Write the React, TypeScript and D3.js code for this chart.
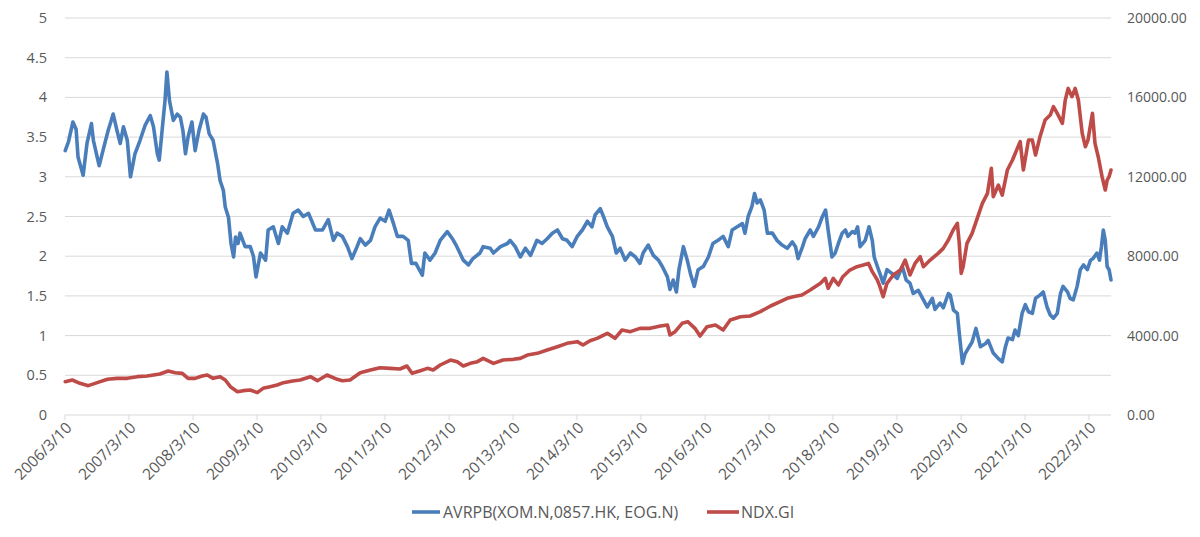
import React from 'react';
import * as d3 from 'd3';

// AVRPB(XOM.N,0857.HK, EOG.N) — time as decimal year, value on left axis
const blueT = [2006.19,2006.24,2006.31,2006.36,2006.39,2006.47,2006.53,2006.60,2006.63,2006.72,2006.78,2006.86,2006.94,2007.00,2007.05,2007.10,2007.16,2007.21,2007.28,2007.36,2007.44,2007.52,2007.57,2007.63,2007.66,2007.71,2007.75,2007.78,2007.82,2007.88,2007.94,2007.99,2008.03,2008.07,2008.11,2008.17,2008.22,2008.28,2008.35,2008.39,2008.44,2008.50,2008.57,2008.61,2008.66,2008.69,2008.74,2008.78,2008.82,2008.85,2008.89,2008.92,2009.00,2009.08,2009.13,2009.17,2009.24,2009.32,2009.36,2009.44,2009.52,2009.58,2009.66,2009.75,2009.83,2009.91,2009.99,2010.10,2010.21,2010.30,2010.38,2010.44,2010.52,2010.60,2010.67,2010.75,2010.80,2010.88,2010.96,2011.03,2011.11,2011.19,2011.25,2011.32,2011.38,2011.47,2011.55,2011.60,2011.67,2011.77,2011.81,2011.89,2011.97,2012.05,2012.16,2012.24,2012.31,2012.41,2012.49,2012.56,2012.67,2012.72,2012.83,2012.88,2012.99,2013.10,2013.14,2013.22,2013.30,2013.38,2013.46,2013.56,2013.64,2013.72,2013.80,2013.88,2013.96,2014.03,2014.11,2014.19,2014.27,2014.35,2014.42,2014.47,2014.55,2014.60,2014.66,2014.74,2014.80,2014.86,2014.94,2015.02,2015.10,2015.17,2015.22,2015.30,2015.38,2015.46,2015.52,2015.60,2015.64,2015.69,2015.74,2015.78,2015.85,2015.91,2015.96,2016.02,2016.08,2016.16,2016.24,2016.31,2016.39,2016.47,2016.55,2016.61,2016.69,2016.77,2016.81,2016.86,2016.92,2016.96,2017.00,2017.05,2017.11,2017.16,2017.24,2017.31,2017.39,2017.47,2017.55,2017.60,2017.64,2017.71,2017.75,2017.83,2017.88,2017.96,2018.02,2018.07,2018.11,2018.17,2018.22,2018.27,2018.33,2018.38,2018.42,2018.49,2018.53,2018.57,2018.61,2018.69,2018.75,2018.80,2018.83,2018.88,2018.92,2018.97,2019.03,2019.11,2019.19,2019.27,2019.33,2019.39,2019.44,2019.52,2019.60,2019.66,2019.74,2019.78,2019.86,2019.91,2019.99,2020.02,2020.07,2020.13,2020.16,2020.21,2020.25,2020.30,2020.36,2020.42,2020.49,2020.57,2020.61,2020.69,2020.77,2020.83,2020.88,2020.92,2020.99,2021.03,2021.08,2021.14,2021.19,2021.24,2021.30,2021.35,2021.42,2021.47,2021.53,2021.58,2021.63,2021.69,2021.74,2021.78,2021.85,2021.89,2021.94,2022.00,2022.05,2022.10,2022.16,2022.21,2022.25,2022.31,2022.35,2022.38,2022.41,2022.44,2022.47,2022.50,2022.53];
const blueV = [3.33,3.44,3.69,3.6,3.25,3.02,3.42,3.67,3.46,3.14,3.33,3.58,3.79,3.58,3.42,3.63,3.46,3.0,3.29,3.46,3.65,3.77,3.63,3.29,3.21,3.63,3.96,4.32,3.96,3.71,3.79,3.75,3.58,3.29,3.5,3.69,3.33,3.58,3.79,3.75,3.54,3.46,3.17,2.95,2.83,2.62,2.49,2.16,1.99,2.24,2.16,2.29,2.12,2.12,2.0,1.74,2.04,1.95,2.33,2.37,2.16,2.37,2.29,2.54,2.58,2.5,2.54,2.33,2.33,2.46,2.2,2.29,2.25,2.12,1.97,2.12,2.22,2.14,2.2,2.37,2.48,2.44,2.58,2.41,2.25,2.25,2.2,1.91,1.91,1.76,2.04,1.95,2.04,2.2,2.31,2.22,2.12,1.95,1.89,1.97,2.04,2.12,2.1,2.04,2.12,2.16,2.2,2.12,1.99,2.1,2.01,2.2,2.16,2.22,2.29,2.33,2.22,2.2,2.12,2.25,2.33,2.44,2.37,2.52,2.6,2.5,2.37,2.25,2.04,2.1,1.95,2.04,1.99,1.91,2.04,2.14,2.01,1.95,1.87,1.74,1.58,1.7,1.55,1.83,2.12,1.95,1.78,1.62,1.83,1.87,1.99,2.16,2.2,2.25,2.12,2.33,2.37,2.41,2.29,2.5,2.63,2.79,2.67,2.71,2.58,2.29,2.29,2.2,2.14,2.1,2.18,2.12,1.97,2.12,2.22,2.33,2.25,2.37,2.5,2.58,2.33,1.99,2.04,2.16,2.29,2.33,2.25,2.31,2.29,2.37,2.12,2.2,2.37,2.2,1.99,1.87,1.78,1.66,1.83,1.78,1.72,1.87,1.7,1.66,1.53,1.57,1.45,1.36,1.47,1.33,1.41,1.35,1.53,1.51,1.32,1.28,1.03,0.65,0.77,0.84,0.92,1.09,0.86,0.9,0.94,0.78,0.71,0.67,0.86,0.97,0.95,1.07,1.0,1.28,1.39,1.3,1.28,1.47,1.51,1.55,1.36,1.26,1.22,1.28,1.53,1.62,1.55,1.47,1.45,1.62,1.83,1.89,1.83,1.95,1.97,2.04,1.95,2.12,2.33,2.2,1.87,1.83,1.7];

// NDX.GI — time as decimal year, value on right axis
const redT = [2006.19,2006.30,2006.42,2006.55,2006.69,2006.85,2007.00,2007.16,2007.315,2007.47,2007.57,2007.67,2007.80,2007.91,2008.02,2008.11,2008.22,2008.33,2008.41,2008.50,2008.61,2008.69,2008.77,2008.88,2008.97,2009.08,2009.19,2009.28,2009.39,2009.50,2009.60,2009.74,2009.86,2010.02,2010.13,2010.28,2010.44,2010.52,2010.64,2010.80,2010.96,2011.11,2011.27,2011.42,2011.53,2011.61,2011.74,2011.85,2011.94,2012.05,2012.21,2012.315,2012.41,2012.52,2012.63,2012.72,2012.88,2013.03,2013.19,2013.30,2013.41,2013.565,2013.72,2013.88,2014.03,2014.19,2014.28,2014.39,2014.50,2014.66,2014.78,2014.89,2015.02,2015.17,2015.33,2015.49,2015.60,2015.64,2015.72,2015.83,2015.92,2016.03,2016.11,2016.22,2016.35,2016.47,2016.58,2016.74,2016.89,2017.05,2017.21,2017.36,2017.47,2017.565,2017.70,2017.83,2017.99,2018.065,2018.11,2018.19,2018.27,2018.34,2018.45,2018.56,2018.66,2018.74,2018.80,2018.88,2018.92,2018.97,2019.03,2019.13,2019.24,2019.315,2019.39,2019.47,2019.55,2019.60,2019.705,2019.83,2019.91,2019.99,2020.065,2020.13,2020.16,2020.19,2020.22,2020.28,2020.36,2020.44,2020.52,2020.60,2020.66,2020.69,2020.77,2020.83,2020.91,2020.99,2021.065,2021.11,2021.16,2021.24,2021.30,2021.35,2021.42,2021.50,2021.58,2021.63,2021.69,2021.77,2021.815,2021.86,2021.92,2021.97,2022.02,2022.08,2022.13,2022.17,2022.24,2022.28,2022.33,2022.39,2022.44,2022.47,2022.50,2022.53];
const redV = [1679,1763,1595,1478,1629,1797,1847,1847,1931,1964,2015,2065,2216,2132,2099,1847,1847,1964,2015,1847,1931,1763,1427,1175,1226,1259,1125,1343,1427,1511,1629,1713,1763,1931,1729,2015,1797,1729,1763,2132,2267,2384,2351,2317,2468,2099,2233,2351,2267,2519,2770,2686,2468,2602,2686,2854,2602,2770,2804,2854,3022,3106,3274,3442,3610,3694,3526,3744,3862,4114,3862,4281,4198,4365,4365,4483,4533,4030,4198,4617,4701,4365,3979,4449,4533,4281,4785,4953,4987,5205,5491,5709,5877,5961,6045,6296,6632,6884,6380,6884,6548,6968,7304,7472,7556,7640,7220,6800,6464,5961,6632,7052,7304,7808,7052,7640,7976,7472,7808,8144,8395,8815,9318,9654,8647,7136,7472,8647,9150,9906,10661,11165,12425,10997,11585,11081,12341,12845,13432,13768,12341,13852,13852,13096,14020,14859,15111,15531,15195,14691,15866,16454,16034,16454,15866,14187,13516,13852,15195,13684,13012,12005,11333,11837,12005,12341];

const tickYears = [2006,2007,2008,2009,2010,2011,2012,2013,2014,2015,2016,2017,2018,2019,2020,2021,2022];
const tickLabels = tickYears.map((y) => `${y}/3/10`);
const leftTicks = [0,0.5,1,1.5,2,2.5,3,3.5,4,4.5,5];
const rightTicks = [0,4000,8000,12000,16000,20000];
const seriesNames = ['AVRPB(XOM.N,0857.HK, EOG.N)', 'NDX.GI'];
const seriesColors = ['#4A7EBB', '#BE4B48'];

function decToDate(t: number): Date {
  const y = Math.floor(t);
  const s = new Date(y, 0, 1).getTime();
  const e = new Date(y + 1, 0, 1).getTime();
  return new Date(s + (t - y) * (e - s));
}

const W = 1200, H = 537;
const M = { left: 65, right: 1111, top: 18, bottom: 415 };
const FONT = '"Open Sans", "Noto Sans", sans-serif';
const TXT = '#595959';

export default function App() {
  const x = d3.scaleTime()
    .domain([new Date(2006, 2, 10), decToDate(2022.53)])
    .range([M.left, M.right]);
  const yL = d3.scaleLinear().domain([0, 5]).range([M.bottom, M.top]);
  const yR = d3.scaleLinear().domain([0, 20000]).range([M.bottom, M.top]);

  const blueLine = d3.line<number>()
    .x((_, i) => x(decToDate(blueT[i])))
    .y((d) => yL(d))
    .curve(d3.curveLinear);
  const redLine = d3.line<number>()
    .x((_, i) => x(decToDate(redT[i])))
    .y((d) => yR(d))
    .curve(d3.curveLinear);

  const tickDates = tickYears.map((y) => new Date(y, 2, 10));

  return (
    <svg width={W} height={H} style={{ position: 'absolute', left: 0, top: 0, background: '#fff' }}
      fontFamily={FONT}>
      <rect x={0} y={0} width={W} height={H} fill="#fff" />
      {leftTicks.map((v) => (
        <line key={'g' + v} x1={M.left} x2={M.right} y1={yL(v)} y2={yL(v)}
          stroke="#D9D9D9" strokeWidth={1} />
      ))}
      {tickDates.map((d, i) => (
        <line key={'t' + i} x1={x(d)} x2={x(d)} y1={M.bottom} y2={M.bottom + 5} stroke="#D9D9D9" strokeWidth={1} />
      ))}
      {leftTicks.map((v) => (
        <text key={'l' + v} x={47} y={yL(v)} dy="0.35em" textAnchor="end" fontSize={14.5} fill={TXT}>
          {String(v)}
        </text>
      ))}
      {rightTicks.map((v) => (
        <text key={'r' + v} x={1127} y={yR(v)} dy="0.35em" textAnchor="start" fontSize={14} fill={TXT}>
          {v.toFixed(2)}
        </text>
      ))}
      {tickDates.map((d, i) => (
        <text key={'x' + i} transform={`translate(${x(d) + 4},${M.bottom + 10}) rotate(-45)`}
          textAnchor="end" dy="0.35em" fontSize={15.5} fill={TXT}>
          {tickLabels[i]}
        </text>
      ))}
      <path d={blueLine(blueV) || ''} fill="none" stroke={seriesColors[0]} strokeWidth={3.6}
        strokeLinejoin="round" strokeLinecap="round" />
      <path d={redLine(redV) || ''} fill="none" stroke={seriesColors[1]} strokeWidth={3.6}
        strokeLinejoin="round" strokeLinecap="round" />
      <g>
        <line x1={412} x2={440} y1={512} y2={512} stroke={seriesColors[0]} strokeWidth={3.6} />
        <text x={443} y={512} dy="0.35em" fontSize={16} fill={TXT}>{seriesNames[0]}</text>
        <line x1={707} x2={739} y1={512} y2={512} stroke={seriesColors[1]} strokeWidth={3.6} />
        <text x={741} y={512} dy="0.35em" fontSize={16} fill={TXT}>{seriesNames[1]}</text>
      </g>
    </svg>
  );
}
